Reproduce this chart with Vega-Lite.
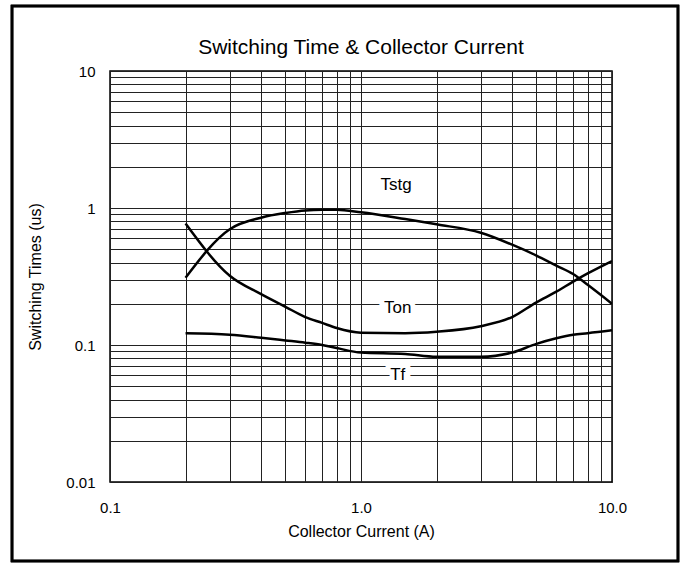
{
  "$schema": "https://vega.github.io/schema/vega-lite/v6.json",
  "width": 502,
  "height": 411,
  "autosize": {"type": "none"},
  "padding": {"left": 110, "top": 71, "right": 72, "bottom": 85},
  "background": "white",
  "config": {
    "font": "Liberation Sans",
    "view": {"stroke": "#000", "strokeWidth": 1.5},
    "axis": {
      "grid": true,
      "gridColor": "#222",
      "gridOpacity": 1,
      "gridWidth": 1,
      "ticks": false,
      "domain": false,
      "labelColor": "#000",
      "titleColor": "#000",
      "labelFontSize": 15,
      "titleFontSize": 16,
      "titleFontWeight": "normal",
      "labelOverlap": false,
      "labelFlush": false
    }
  },
  "title": {
    "text": "Switching Time & Collector Current",
    "fontSize": 21,
    "fontWeight": "normal",
    "color": "#000",
    "offset": 0,
    "dy": 53
  },
  "datasets": {
    "curves": [
      {"series": "Tstg", "current": 0.2, "time": 0.31},
      {"series": "Tstg", "current": 0.3, "time": 0.70},
      {"series": "Tstg", "current": 0.4, "time": 0.85},
      {"series": "Tstg", "current": 0.5, "time": 0.92},
      {"series": "Tstg", "current": 0.6, "time": 0.96},
      {"series": "Tstg", "current": 0.7, "time": 0.97},
      {"series": "Tstg", "current": 0.8, "time": 0.97},
      {"series": "Tstg", "current": 1.0, "time": 0.93},
      {"series": "Tstg", "current": 1.5, "time": 0.83},
      {"series": "Tstg", "current": 2, "time": 0.76},
      {"series": "Tstg", "current": 3, "time": 0.66},
      {"series": "Tstg", "current": 4, "time": 0.54},
      {"series": "Tstg", "current": 5, "time": 0.45},
      {"series": "Tstg", "current": 6, "time": 0.38},
      {"series": "Tstg", "current": 7, "time": 0.33},
      {"series": "Tstg", "current": 8, "time": 0.275},
      {"series": "Tstg", "current": 10, "time": 0.20},
      {"series": "Ton", "current": 0.2, "time": 0.77},
      {"series": "Ton", "current": 0.3, "time": 0.32},
      {"series": "Ton", "current": 0.4, "time": 0.235},
      {"series": "Ton", "current": 0.5, "time": 0.19},
      {"series": "Ton", "current": 0.6, "time": 0.16},
      {"series": "Ton", "current": 0.7, "time": 0.145},
      {"series": "Ton", "current": 0.8, "time": 0.133},
      {"series": "Ton", "current": 1.0, "time": 0.123},
      {"series": "Ton", "current": 1.5, "time": 0.122},
      {"series": "Ton", "current": 2, "time": 0.125},
      {"series": "Ton", "current": 3, "time": 0.137},
      {"series": "Ton", "current": 4, "time": 0.16},
      {"series": "Ton", "current": 5, "time": 0.205},
      {"series": "Ton", "current": 6, "time": 0.245},
      {"series": "Ton", "current": 7, "time": 0.29},
      {"series": "Ton", "current": 8, "time": 0.333},
      {"series": "Ton", "current": 10, "time": 0.41},
      {"series": "Tf", "current": 0.2, "time": 0.122},
      {"series": "Tf", "current": 0.3, "time": 0.119},
      {"series": "Tf", "current": 0.4, "time": 0.113},
      {"series": "Tf", "current": 0.5, "time": 0.108},
      {"series": "Tf", "current": 0.6, "time": 0.104},
      {"series": "Tf", "current": 0.7, "time": 0.1},
      {"series": "Tf", "current": 0.8, "time": 0.095},
      {"series": "Tf", "current": 1.0, "time": 0.088},
      {"series": "Tf", "current": 1.5, "time": 0.086},
      {"series": "Tf", "current": 2, "time": 0.082},
      {"series": "Tf", "current": 3, "time": 0.082},
      {"series": "Tf", "current": 4, "time": 0.088},
      {"series": "Tf", "current": 5, "time": 0.102},
      {"series": "Tf", "current": 6, "time": 0.112},
      {"series": "Tf", "current": 7, "time": 0.119},
      {"series": "Tf", "current": 8, "time": 0.122},
      {"series": "Tf", "current": 10, "time": 0.128}
    ],
    "labels": [
      {"label": "Tstg", "current": 1.38, "time": 1.47},
      {"label": "Ton", "current": 1.40, "time": 0.186},
      {"label": "Tf", "current": 1.40, "time": 0.0604}
    ]
  },
  "layer": [
    {
      "data": {"name": "labels"},
      "mark": {"type": "rect", "fillOpacity": 0, "stroke": "#000", "strokeWidth": 2.5, "clip": false},
      "encoding": {
        "x": {"datum": 0.0407, "type": "quantitative", "scale": {"type": "log", "domain": [0.1, 10], "nice": false, "zero": false}},
        "x2": {"datum": 18.32},
        "y": {"datum": 29.82, "type": "quantitative", "scale": {"type": "log", "domain": [0.01, 10], "nice": false, "zero": false}},
        "y2": {"datum": 0.002651}
      }
    },
    {
      "data": {"name": "labels"},
      "mark": {"type": "text", "fontSize": 17, "fill": "white", "stroke": "white", "strokeWidth": 10, "align": "center", "baseline": "middle"},
      "encoding": {
        "x": {"field": "current", "type": "quantitative", "scale": {"type": "log", "domain": [0.1, 10], "nice": false, "zero": false}},
        "y": {"field": "time", "type": "quantitative", "scale": {"type": "log", "domain": [0.01, 10], "nice": false, "zero": false}},
        "text": {"field": "label"}
      }
    },
    {
      "data": {"name": "curves"},
      "mark": {"type": "line", "color": "#000", "strokeWidth": 2.5, "interpolate": "monotone", "clip": true},
      "encoding": {
        "x": {
          "field": "current",
          "type": "quantitative",
          "scale": {"type": "log", "domain": [0.1, 10], "nice": false, "zero": false},
          "axis": {
            "title": "Collector Current (A)",
            "values": [0.1, 0.2, 0.3, 0.4, 0.5, 0.6, 0.7, 0.8, 0.9, 1, 2, 3, 4, 5, 6, 7, 8, 9, 10],
            "labelExpr": "datum.value == 0.1 ? '0.1' : datum.value == 1 ? '1.0' : datum.value == 10 ? '10.0' : ''",
            "labelPadding": 18,
            "titlePadding": 8
          }
        },
        "y": {
          "field": "time",
          "type": "quantitative",
          "scale": {"type": "log", "domain": [0.01, 10], "nice": false, "zero": false},
          "axis": {
            "title": "Switching Times (us)",
            "values": [0.01, 0.02, 0.03, 0.04, 0.05, 0.06, 0.07, 0.08, 0.09, 0.1, 0.2, 0.3, 0.4, 0.5, 0.6, 0.7, 0.8, 0.9, 1, 2, 3, 4, 5, 6, 7, 8, 9, 10],
            "labelExpr": "datum.value == 0.01 ? '0.01' : datum.value == 0.1 ? '0.1' : datum.value == 1 ? '1' : datum.value == 10 ? '10' : ''",
            "labelPadding": 15,
            "titlePadding": 22
          }
        },
        "detail": {"field": "series"}
      }
    },
    {
      "data": {"name": "labels"},
      "mark": {"type": "text", "fontSize": 17, "fill": "#000", "align": "center", "baseline": "middle"},
      "encoding": {
        "x": {"field": "current", "type": "quantitative", "scale": {"type": "log", "domain": [0.1, 10], "nice": false, "zero": false}},
        "y": {"field": "time", "type": "quantitative", "scale": {"type": "log", "domain": [0.01, 10], "nice": false, "zero": false}},
        "text": {"field": "label"}
      }
    }
  ]
}
